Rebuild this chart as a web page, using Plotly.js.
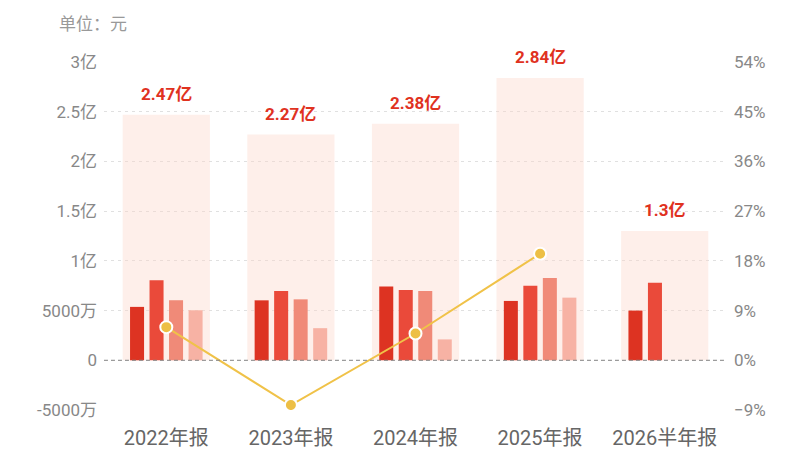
<!DOCTYPE html>
<html>
<head>
<meta charset="utf-8">
<script src="https://cdn.plot.ly/plotly-3.0.1.min.js"></script>
<style>
  html, body { margin: 0; padding: 0; background: #fff; }
  #chart { width: 800px; height: 450px; }
</style>
</head>
<body>
<div id="chart"></div>
<script>
// values in 亿元, growth in %
const categories = ['2022年报', '2023年报', '2024年报', '2025年报', '2026半年报'];
const totals = [2.47, 2.27, 2.38, 2.84, 1.3];
const totalLabels = ['2.47亿', '2.27亿', '2.38亿', '2.84亿', '1.3亿'];
const q1 = [0.537, 0.603, 0.743, 0.597, 0.50];
const q2 = [0.805, 0.697, 0.707, 0.75, 0.78];
const q3 = [0.604, 0.613, 0.697, 0.827, null];
const q4 = [0.503, 0.323, 0.21, 0.63, null];
const growth = [6.0, -8.1, 4.85, 19.3, null];

const leftTickVals = [-0.5, 0, 0.5, 1, 1.5, 2, 2.5, 3];
const leftTickText = ['-5000万', '0', '5000万', '1亿', '1.5亿', '2亿', '2.5亿', '3亿'];

const font = 'Roboto, "Noto Sans CJK SC", sans-serif';
const qColors = ['#DD3322', '#EA4A3A', '#F08A78', '#F7B2A4'];
const qOffsets = [-0.291, -0.1345, 0.022, 0.1787];

const traces = [{
  type: 'bar', x: categories, y: totals,
  width: 0.7, offset: -0.35,
  marker: { color: 'rgba(252,215,202,0.4)' },
  hoverinfo: 'skip'
}];

[q1, q2, q3, q4].forEach((vals, i) => {
  traces.push({
    type: 'bar', x: categories, y: vals,
    width: 0.1125, offset: qOffsets[i],
    marker: { color: qColors[i] },
    hoverinfo: 'skip'
  });
});

traces.push({
  type: 'scatter', mode: 'lines+markers',
  x: categories, y: growth, yaxis: 'y2',
  line: { color: '#F0C248', width: 2 },
  marker: { color: '#EDBF45', size: 12, line: { color: '#fff', width: 2 } },
  hoverinfo: 'skip'
});

const annotations = categories.map((c, i) => ({
  x: c, y: totals[i], xref: 'x', yref: 'y',
  text: '<b>' + totalLabels[i] + '</b>',
  showarrow: false, yanchor: 'bottom', yshift: 9,
  font: { family: font, size: 17, color: '#E0321F' }
}));
// unit label, top left
annotations.push({
  xref: 'paper', x: (57 - 104) / 623, xanchor: 'left',
  yref: 'paper', y: 1 + (62 - 24) / 348, yanchor: 'middle',
  text: '单位：元', showarrow: false,
  font: { family: font, size: 17, color: '#999' }
});

const layout = {
  width: 800, height: 450,
  margin: { l: 104, r: 73, t: 62, b: 40 },
  paper_bgcolor: '#fff', plot_bgcolor: '#fff',
  barmode: 'overlay',
  showlegend: false,
  font: { family: font },
  xaxis: {
    type: 'category',
    showgrid: false, zeroline: false, showline: false,
    ticks: '', ticklabelstandoff: 14,
    tickfont: { family: font, size: 20, color: '#666' }
  },
  yaxis: {
    range: [-0.5, 3],
    tickvals: leftTickVals, ticktext: leftTickText,
    showgrid: true, gridcolor: '#e0e0e0', griddash: '3px,4px', gridwidth: 1,
    zeroline: false, showline: false, ticks: '', ticklabelstandoff: 6,
    tickfont: { family: font, size: 17, color: '#888' }
  },
  yaxis2: {
    overlaying: 'y', side: 'right',
    range: [-9, 54], dtick: 9, tick0: 0, ticksuffix: '%',
    showgrid: false, zeroline: false, showline: false, ticks: '', ticklabelstandoff: 6,
    tickfont: { family: font, size: 17, color: '#888' }
  },
  shapes: [{
    type: 'line', xref: 'paper', x0: 0, x1: 1, yref: 'y', y0: 0, y1: 0,
    line: { color: '#888', width: 1, dash: '4px,3px' }
  }],
  annotations: annotations
};

Plotly.newPlot('chart', traces, layout, { staticPlot: true, displayModeBar: false });
</script>
</body>
</html>
